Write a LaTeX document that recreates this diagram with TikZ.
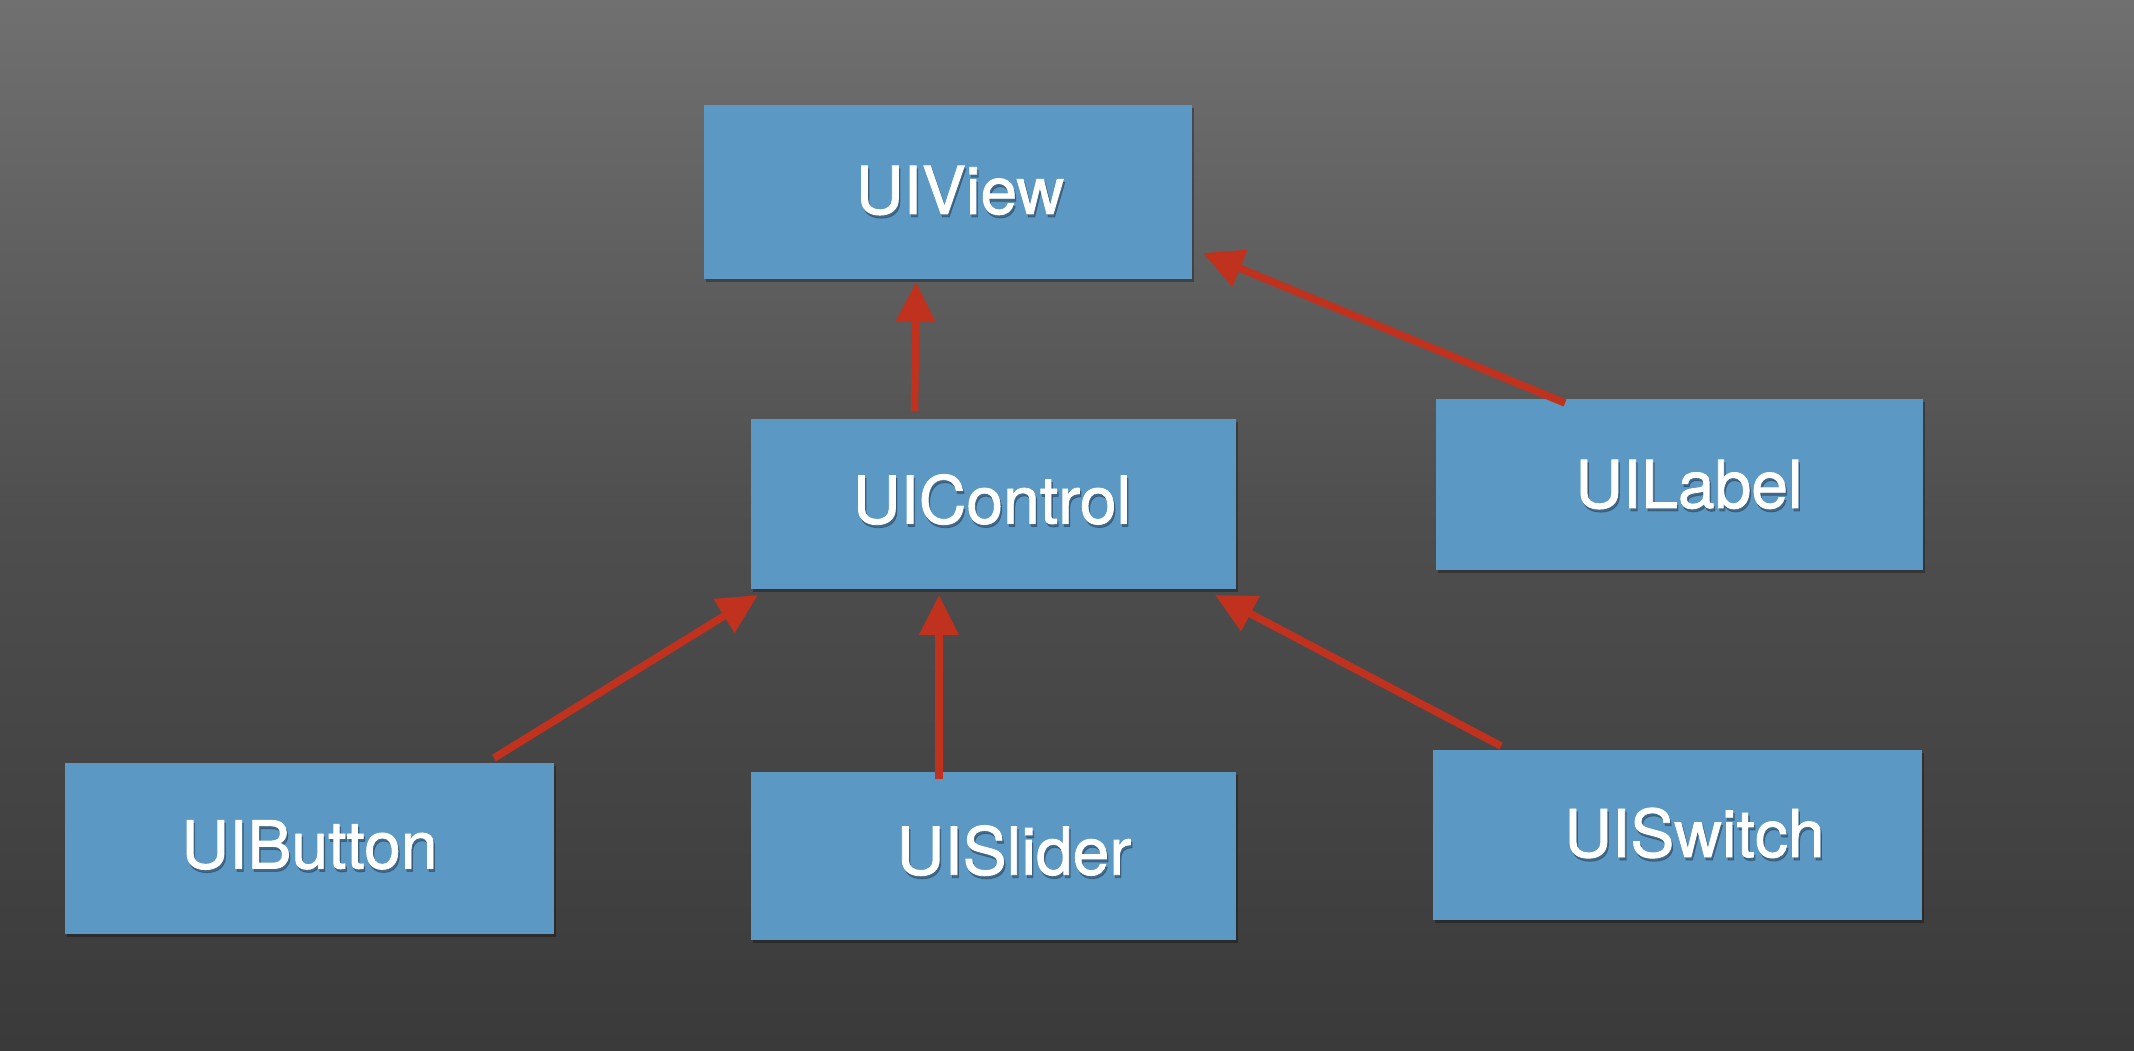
\documentclass[tikz,border=0pt]{standalone}
\usepackage{fontspec}
\setmainfont{TeX Gyre Heros}
\newfontfamily\boxfont[FakeBold=1.2]{TeX Gyre Heros}
\usetikzlibrary{calc,arrows.meta,shadows}
\definecolor{bgtop}{RGB}{112,112,112}
\definecolor{bgmid}{RGB}{78,78,78}
\definecolor{bgbot}{RGB}{58,58,58}
\definecolor{boxblue}{RGB}{91,152,196}
\definecolor{arrred}{RGB}{192,50,30}
\definecolor{txtshadow}{RGB}{40,60,80}
\tikzset{
  umlbox/.style={fill=boxblue, draw=none, inner sep=0pt, outer sep=0pt,
    drop shadow={shadow xshift=2pt, shadow yshift=-3pt, fill=black, opacity=0.3}},
  boxtext/.style={text=white, inner sep=0pt, font=\boxfont\fontsize{66}{78}\selectfont},
  arr/.style={draw=arrred, line width=7.5pt, -{Triangle[length=40pt,width=38pt]}}
}
\begin{document}
\begin{tikzpicture}[x=1pt,y=-1pt]
\useasboundingbox (0,0) rectangle (2134,1050);
\shade[top color=bgtop, bottom color=bgbot, middle color=bgmid] (0,0) rectangle (2134,1050);
% boxes
\node[umlbox, minimum width=488pt, minimum height=174pt] (view) at (948,192) {};
\node[umlbox, minimum width=485pt, minimum height=170pt] (ctrl) at (993.5,504) {};
\node[umlbox, minimum width=487pt, minimum height=171pt] (label) at (1679.5,484.5) {};
\node[umlbox, minimum width=489pt, minimum height=171pt] (button) at (309.5,848.5) {};
\node[umlbox, minimum width=485pt, minimum height=168pt] (slider) at (993.5,856) {};
\node[umlbox, minimum width=489pt, minimum height=170pt] (switch) at (1677.5,835) {};
% texts (shadow + text)
\foreach \n/\x/\y/\t in {viewt/960/190.5/UIView, ctrlt/992/499.5/UIControl, labelt/1689/484.5/UILabel, buttont/309.5/845/UIButton, slidert/1014/850.6/UISlider, switcht/1694.5/833/UISwitch}{
  \node[boxtext, text=txtshadow, opacity=0.5] (\n s) at (\x+1.5,\y+3) {\t};
  \node[boxtext] (\n) at (\x,\y) {\t};
}
% connectors
\draw[arr] ($(ctrl.north)+(-79,-8)$) -- ($(view.south)+(-32,3)$);
\draw[arr] ($(label.north west)+(129,4)$) -- ($(view.east)+(11,61)$);
\draw[arr] ($(button.north east)+(-60,-5)$) -- ($(ctrl.south west)+(7,6)$);
\draw[arr] ($(slider.north)+(-54.5,6.5)$) -- ($(ctrl.south)+(-54.5,6)$);
\draw[arr] ($(switch.north west)+(68,-4)$) -- ($(ctrl.south east)+(-21,6)$);
\end{tikzpicture}
\end{document}
